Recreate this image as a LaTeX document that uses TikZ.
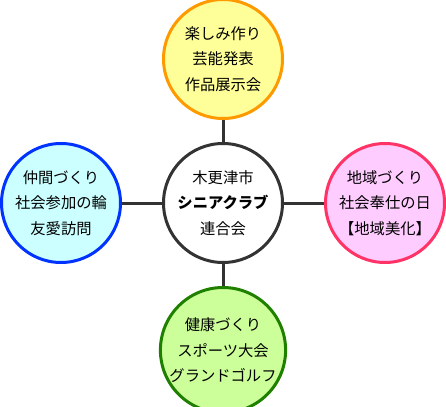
\documentclass[tikz,border=0pt]{standalone}
\usepackage{fontspec}
\setmainfont{Noto Sans CJK JP}
\usetikzlibrary{positioning}

\definecolor{funfill}{HTML}{FFFF99}
\definecolor{funline}{HTML}{FF9900}
\definecolor{palfill}{HTML}{CCFFFF}
\definecolor{palline}{HTML}{0033FF}
\definecolor{towfill}{HTML}{FFCCFF}
\definecolor{towline}{HTML}{FF3366}
\definecolor{fitfill}{HTML}{CCFF99}
\definecolor{fitline}{HTML}{1F8000}
\definecolor{hubline}{HTML}{333333}

\begin{document}
\begin{tikzpicture}[x=1pt,y=-1pt]
    \tikzset{bubble/.style = {circle,
        line width      = 3pt,
        minimum size    = 119pt,
        inner sep       = 0pt,
        align           = center,
        font            = \fontsize{15.3}{25.5}\selectfont
        },
        link/.style = {line width = 3pt, draw = hubline}}

    \useasboundingbox (0,0) rectangle (446,406);

    \def\Vgap{22pt};
    \def\Hgap{40pt};

    % Draw the club in the middle.
    \node[bubble, draw=hubline, fill=white] (hub) at (223,203)
        {木更津市\\{\bfseries シニアクラブ}\\連合会};

    % Draw the four circles round it.
    \node[bubble, draw=funline, fill=funfill, above=\Vgap of hub] (fun)
        {楽しみ作り\\芸能発表\\作品展示会};
    \node[bubble, draw=palline, fill=palfill, left=\Hgap of hub] (pal)
        {仲間づくり\\社会参加の輪\\友愛訪問};
    \node[bubble, draw=towline, fill=towfill, right=\Hgap of hub] (town)
        {地域づくり\\社会奉仕の日\\【地域美化】};
    \node[bubble, draw=fitline, fill=fitfill, below=\Vgap of hub] (fit)
        {健康づくり\\スポーツ大会\\グランドゴルフ};

    % Draw the links.
    \draw[link] (hub) -- (fun);
    \draw[link] (hub) -- (pal);
    \draw[link] (hub) -- (town);
    \draw[link] (hub) -- (fit);
  \end{tikzpicture}
\end{document}
